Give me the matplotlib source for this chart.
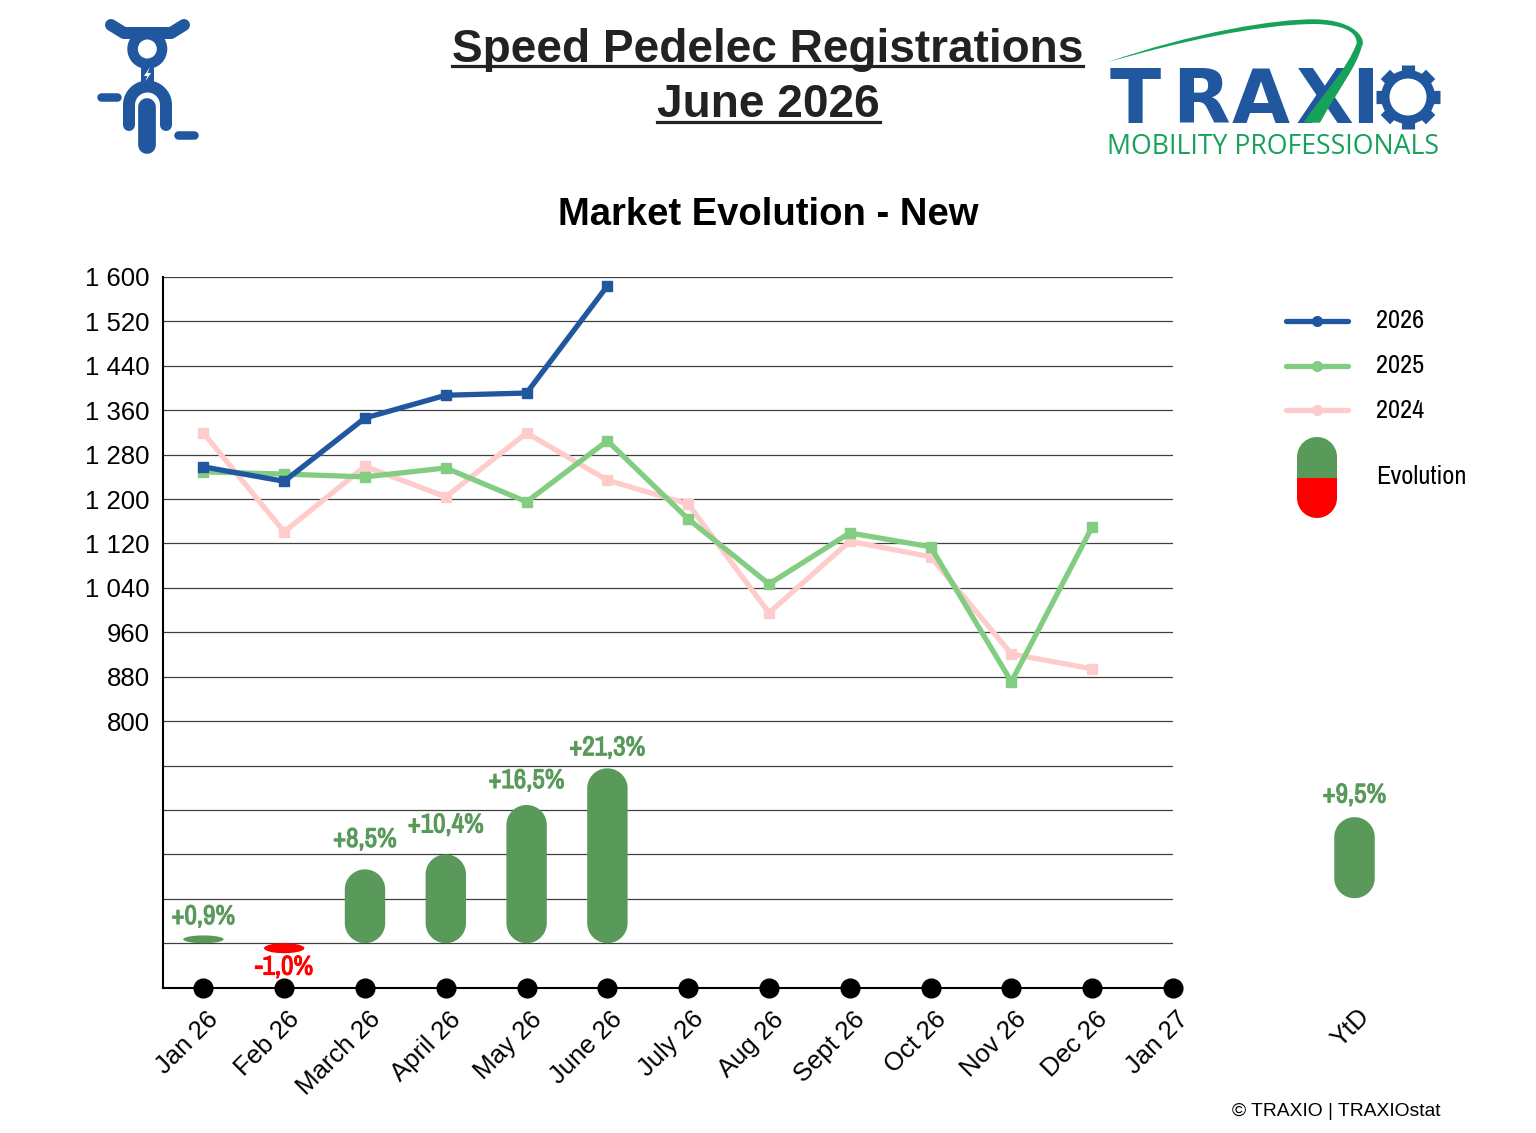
import numpy as np
import matplotlib
matplotlib.use('Agg')
import matplotlib.pyplot as plt
import matplotlib.patheffects as pe
from matplotlib.patches import Circle, PathPatch, Polygon, Rectangle
from matplotlib.path import Path
from matplotlib.transforms import ScaledTranslation

plt.rcParams['font.family'] = ['Liberation Sans', 'DejaVu Sans']
NARROW = ['Archivo Narrow', 'Liberation Sans']

months = ['Jan 26', 'Feb 26', 'March 26', 'April 26', 'May 26', 'June 26', 'July 26',
          'Aug 26', 'Sept 26', 'Oct 26', 'Nov 26', 'Dec 26', 'Jan 27']
y2026 = [1258, 1232, 1346, 1387, 1391, 1584]
y2025 = [1249, 1245, 1240, 1256, 1195, 1305, 1164, 1047, 1139, 1114, 871, 1150]
y2024 = [1319, 1141, 1259, 1204, 1319, 1234, 1191, 995, 1124, 1096, 921, 894]
yticks = [800, 880, 960, 1040, 1120, 1200, 1280, 1360, 1440, 1520, 1600]
ytick_labels = ['800', '880', '960', '1 040', '1 120', '1 200', '1 280', '1 360', '1 440', '1 520', '1 600']
all_grid = [400, 480, 560, 640, 720]

evo_labels = ['+0,9%', '-1,0%', '+8,5%', '+10,4%', '+16,5%', '+21,3%']
evo_height = [14, -18, 133, 160, 249, 315]
evo_label_y = [448, 357, 587, 613, 693, 752]
ytd_label = '+9,5%'
ytd_base = 481
ytd_height = 146

BLUE = '#20579F'
GREEN = '#82CD82'
PINK = '#FFCCCC'
PILL = '#599A5A'
RED = '#FF0000'
LOGO_GREEN = '#17A25A'


def pill(ax, x, base, height, color, half_w=0.25, r_data=36, **kw):
    # rounded bar, ends squashed when the bar is too short for a full radius
    low, high = sorted([base, base + height])
    ry = min(r_data, (high - low) / 2)
    t = np.linspace(0, np.pi, 30)
    top = np.c_[x + half_w * np.cos(t), high - ry + ry * np.sin(t)]
    bot = np.c_[x - half_w * np.cos(t), low + ry - ry * np.sin(t)]
    ax.add_patch(Polygon(np.r_[top, bot], closed=True, fc=color, ec='none', **kw))


def thick(c):
    # the narrow face has no bold cut
    return [pe.withStroke(linewidth=0.8, foreground=c)]


fig = plt.figure(figsize=(15.36, 11.33), dpi=100)
shift = ScaledTranslation(3 / 100, 0, fig.dpi_scale_trans)

# main chart
ax = fig.add_axes([163 / 1536, 145.4 / 1133, 1010 / 1536, 710.6 / 1133])
ax.set_xlim(-0.5, 12)
ax.set_ylim(320, 1600)
for v in all_grid + yticks:
    ax.axhline(v, color='#404040', lw=0.9, zorder=1)
ax.set_yticks(yticks)
ax.set_yticklabels(ytick_labels, fontsize=18.5)
ax.tick_params(axis='y', length=0, pad=9.5)
ax.set_xticks(range(len(months)))
ax.set_xticklabels(months, fontsize=18.5, rotation=45, ha='right', va='top', rotation_mode='anchor')
ax.tick_params(axis='x', length=0, pad=14)
for lab in ax.get_xticklabels():
    lab.set_transform(lab.get_transform() + shift)
for s in ['top', 'right']:
    ax.spines[s].set_visible(False)
for s in ['left', 'bottom']:
    ax.spines[s].set_linewidth(1.5)
    ax.spines[s].set_color('black')

ax.plot(range(12), y2024, color=PINK, lw=3.8, marker='s', ms=7.5, zorder=3)
ax.plot(range(12), y2025, color=GREEN, lw=3.8, marker='s', ms=7.5, zorder=4)
ax.plot(range(6), y2026, color=BLUE, lw=3.8, marker='s', ms=7.5, zorder=5)
ax.plot(range(13), [320] * 13, ls='none', marker='o', ms=13.5, color='black', clip_on=False, zorder=6)

for i in range(6):
    c = PILL if evo_height[i] > 0 else RED
    pill(ax, i, 400, evo_height[i], c, zorder=3)
    ax.text(i, evo_label_y[i], evo_labels[i], color=c, family=NARROW, fontweight='bold',
            fontsize=19.5, ha='center', va='center', zorder=6, path_effects=thick(c))

# YtD column
ax2 = fig.add_axes([1314 / 1536, 145.4 / 1133, 81 / 1536, 710.6 / 1133])
ax2.set_xlim(-0.5, 0.5)
ax2.set_ylim(320, 1600)
ax2.patch.set_alpha(0)
for s in ax2.spines.values():
    s.set_visible(False)
ax2.set_yticks([])
ax2.set_xticks([0])
ax2.set_xticklabels(['YtD'], fontsize=18.5, rotation=45, ha='right', va='top', rotation_mode='anchor')
ax2.tick_params(axis='x', length=0, pad=12)
for lab in ax2.get_xticklabels():
    lab.set_transform(lab.get_transform() + shift)
pill(ax2, 0, ytd_base, ytd_height, PILL)
ax2.text(0, 667, ytd_label, color=PILL, family=NARROW, fontweight='bold', fontsize=19.5,
         ha='center', va='center', path_effects=thick(PILL))

# overlay in pixels for titles, legend and logos
ov = fig.add_axes([0, 0, 1, 1], zorder=-1)
ov.set_xlim(0, 1536)
ov.set_ylim(1133, 0)
ov.axis('off')

ov.text(768, 50, 'Speed Pedelec Registrations', fontsize=33.1, fontweight='bold', color='#222222',
        ha='center', va='center')
ov.text(768, 105, 'June 2026', fontsize=33.1, fontweight='bold', color='#222222', ha='center', va='center')
ov.plot([452, 1083], [66, 66], color='#222222', lw=2.3)
ov.plot([657, 880], [122, 122], color='#222222', lw=2.3)
ov.text(768, 215, 'Market Evolution - New', fontsize=27.5, fontweight='bold', color='black',
        ha='center', va='center')

# legend
for yy, c, lab in [(321, BLUE, '2026'), (365.5, GREEN, '2025'), (410, PINK, '2024')]:
    ov.plot([1286, 1348], [yy, yy], color=c, lw=3.8, solid_capstyle='round')
    ov.plot([1316.5], [yy], marker='o', ms=7, color=c)
    ov.text(1376, yy, lab, family=NARROW, fontsize=19, ha='left', va='center')
ov.text(1376, 477, 'Evolution', family=NARROW, fontsize=19, ha='left', va='center')
t = np.linspace(0, np.pi, 30)
ov.add_patch(Polygon(np.c_[1317 + 20 * np.cos(t), 457 - 20 * np.sin(t)].tolist() + [[1297, 478], [1337, 478]],
                     fc=PILL, ec='none'))
ov.add_patch(Polygon(np.c_[1317 - 20 * np.cos(t), 498 + 20 * np.sin(t)].tolist() + [[1337, 478], [1297, 478]],
                     fc=RED, ec='none'))

ov.text(1440, 1111, '\u00a9 TRAXIO | TRAXIOstat', fontsize=13.9, ha='right', va='center')

# bike icon
lw_px = 0.72
ov.plot([111, 124, 171, 184], [25, 33, 33, 25], color=BLUE, lw=12 * lw_px, solid_capstyle='round',
        solid_joinstyle='round')
ov.add_patch(Rectangle((123, 28), 48, 10, fc=BLUE, ec='none'))
ov.add_patch(Circle((147.3, 49), 20, fc=BLUE, ec='none'))
ov.add_patch(Circle((147.3, 49), 9.5, fc='white', ec='none'))
ov.add_patch(Rectangle((141, 65), 13, 20, fc=BLUE, ec='none'))
ov.add_patch(Polygon([[150, 67], [144, 76], [147.5, 76], [145, 82], [151, 73], [147.5, 73]], fc='white', ec='none'))
a = np.linspace(np.pi, 0, 30)
ov.plot(np.r_[129, 147.5 + 18.5 * np.cos(a), 166], np.r_[125, 105 - 18.5 * np.sin(a), 125],
        color=BLUE, lw=12 * lw_px, solid_capstyle='round')
ov.plot([147.3, 147.3], [108, 145], color='white', lw=23 * lw_px, solid_capstyle='round')
ov.plot([147.3, 147.3], [107, 145], color=BLUE, lw=17.7 * lw_px, solid_capstyle='round')
ov.plot([101, 117], [96.5, 96.5], color=BLUE, lw=8.5 * lw_px, solid_capstyle='round')
ov.plot([178, 194], [135, 135], color=BLUE, lw=8.5 * lw_px, solid_capstyle='round')

# traxio logo
for ch, cx in zip('TRAXI', [1135, 1201, 1261, 1325, 1365]):
    ov.text(cx, 123, ch, color=BLUE, fontsize=54, family='DejaVu Sans', fontweight='bold',
            ha='center', va='baseline')
pts = np.array([(52, 187), (300, 100), (560, 55), (680, 58), (800, 62), (830, 120), (815, 140),
                (800, 200), (750, 260), (690, 368), (640, 368), (700, 280), (770, 210), (800, 130),
                (800, 90), (750, 75), (680, 72), (500, 72), (250, 130), (52, 187)], dtype=float)
pts = pts / 3 + [1090, 0]
codes = [Path.MOVETO] + [Path.CURVE4] * 9 + [Path.LINETO] + [Path.CURVE4] * 9
ov.add_patch(PathPatch(Path(pts, codes), fc=LOGO_GREEN, ec='none', zorder=5))
gear_t = np.arange(8) * np.pi / 4
for g in gear_t:
    ov.plot([1408 + 24 * np.cos(g), 1408 + 32 * np.cos(g)], [97 + 24 * np.sin(g), 97 + 32 * np.sin(g)],
            color=BLUE, lw=9.5, solid_capstyle='butt')
ov.add_patch(Circle((1408, 97), 27, fc=BLUE, ec='none', zorder=3))
ov.add_patch(Circle((1408, 97), 18.5, fc='white', ec='none', zorder=3))
ov.text(1273, 147, 'MOBILITY PROFESSIONALS', color=LOGO_GREEN, family='Open Sans', fontsize=19.2,
        ha='center', va='center')

fig.savefig('out.png', dpi=100)
